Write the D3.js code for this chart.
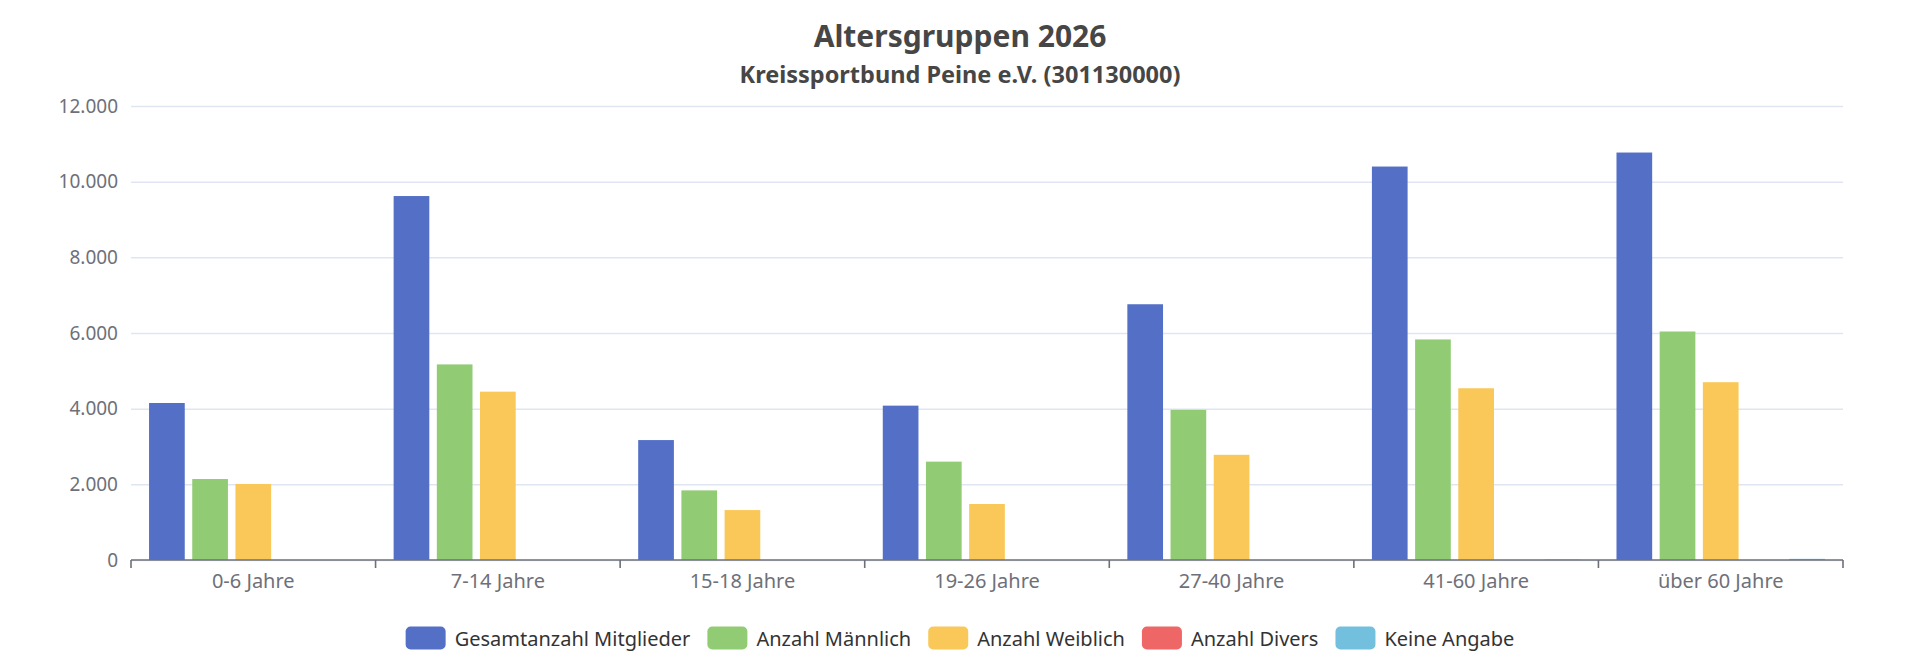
<!DOCTYPE html>
<html>
<head>
<meta charset="utf-8">
<script src="https://cdn.jsdelivr.net/npm/d3@7"></script>
<style>
  html, body { margin: 0; padding: 0; background: #fff; }
  svg { display: block; font-family: "Noto Sans", "Open Sans", sans-serif; }
</style>
</head>
<body>
<div id="chart"></div>
<script>
// data
const categories = ["0-6 Jahre", "7-14 Jahre", "15-18 Jahre", "19-26 Jahre", "27-40 Jahre", "41-60 Jahre", "über 60 Jahre"];
const seriesNames = ["Gesamtanzahl Mitglieder", "Anzahl Männlich", "Anzahl Weiblich", "Anzahl Divers", "Keine Angabe"];
const gesamt = [4150, 9620, 3170, 4080, 6760, 10400, 10770];
const maennlich = [2140, 5170, 1840, 2600, 3970, 5830, 6040];
const weiblich = [2010, 4450, 1320, 1480, 2780, 4540, 4700];
const divers = [0, 0, 0, 0, 0, 0, 0];
const keineAngabe = [0, 0, 0, 0, 0, 10, 30];
const yTicks = [0, 2000, 4000, 6000, 8000, 10000, 12000];
const colors = ["#5470c6", "#91cc75", "#fac858", "#ee6666", "#73c0de"];

const seriesValues = [gesamt, maennlich, weiblich, divers, keineAngabe];

const W = 1920, H = 659;
const margin = { top: 106, right: 77, bottom: 99, left: 131 };
const width = W - margin.left - margin.right,
      height = H - margin.top - margin.bottom;

const de = d3.formatLocale({ decimal: ",", thousands: ".", grouping: [3], currency: ["", " €"] });
const fmt = de.format(",d");

const svg = d3.select("#chart").append("svg")
    .attr("width", W).attr("height", H);

// titles
svg.append("text")
    .attr("x", W / 2).attr("y", 47)
    .attr("text-anchor", "middle")
    .style("font-size", "30px").style("font-weight", "bold").style("fill", "#464646")
    .text("Altersgruppen 2026");
svg.append("text")
    .attr("x", W / 2).attr("y", 83)
    .attr("text-anchor", "middle")
    .style("font-size", "23.5px").style("font-weight", "bold").style("fill", "#464646")
    .text("Kreissportbund Peine e.V. (301130000)");

const g = svg.append("g").attr("transform", `translate(${margin.left},${margin.top})`);

// scales
const x0 = d3.scaleBand().domain(categories).range([0, width]).padding(0);
const x1 = d3.scaleBand().domain(seriesNames).range([0, x0.bandwidth()])
    .paddingInner(0.1736).paddingOuter(0.418);
const y = d3.scaleLinear().domain([0, 12000]).range([height, 0]);

// grid
g.append("g")
    .call(d3.axisLeft(y).tickValues(yTicks).tickSize(-width).tickFormat(""))
    .call(s => s.select(".domain").remove())
    .call(s => s.selectAll("line").attr("stroke", "#e0e6f1").attr("stroke-width", 1.5));

// y labels
g.append("g")
    .call(d3.axisLeft(y).tickValues(yTicks).tickSize(0).tickPadding(13).tickFormat(fmt))
    .attr("font-family", null).attr("font-size", null)
    .call(s => s.select(".domain").remove())
    .call(s => s.selectAll("text").style("font-size", "19px").style("fill", "#6e7079"));

// bars
const rows = categories.map((c, i) => ({ cat: c, vals: seriesNames.map((n, k) => ({ key: n, value: seriesValues[k][i], color: colors[k] })) }));

g.selectAll(".cat")
    .data(rows)
    .enter().append("g")
    .attr("transform", d => `translate(${x0(d.cat)},0)`)
    .selectAll("rect")
    .data(d => d.vals)
    .enter().append("rect")
    .attr("x", d => x1(d.key))
    .attr("y", d => y(d.value))
    .attr("width", x1.bandwidth())
    .attr("height", d => height - y(d.value))
    .attr("fill", d => d.color);

// x axis with ticks at category boundaries
const xAxis = g.append("g").attr("transform", `translate(0,${height})`);
xAxis.append("line")
    .attr("x1", 0).attr("x2", width)
    .attr("stroke", "#6e7079").attr("stroke-width", 1.6);
xAxis.selectAll(".tk")
    .data(categories.map(c => x0(c)).concat([width]))
    .enter().append("line")
    .attr("x1", d => d).attr("x2", d => d)
    .attr("y1", 0).attr("y2", 8)
    .attr("stroke", "#6e7079").attr("stroke-width", 1.6);
xAxis.selectAll(".lbl")
    .data(categories)
    .enter().append("text")
    .attr("x", d => x0(d) + x0.bandwidth() / 2)
    .attr("y", 28)
    .attr("text-anchor", "middle")
    .style("font-size", "20px").style("fill", "#6e7079")
    .text(d => d);

// legend
const legend = svg.append("g");
let lx = 0;
seriesNames.forEach((name, k) => {
    const item = legend.append("g").attr("transform", `translate(${lx},0)`);
    item.append("rect")
        .attr("x", 0).attr("y", -11.5)
        .attr("width", 40).attr("height", 23).attr("rx", 5)
        .attr("fill", colors[k]);
    const t = item.append("text")
        .attr("x", 49).attr("y", 0)
        .attr("dominant-baseline", "central")
        .style("font-size", "20px").style("fill", "#333")
        .text(name);
    lx += 49 + t.node().getComputedTextLength() + 17;
});
lx -= 17;
legend.attr("transform", `translate(${(W - lx) / 2},638)`);
</script>
</body>
</html>
